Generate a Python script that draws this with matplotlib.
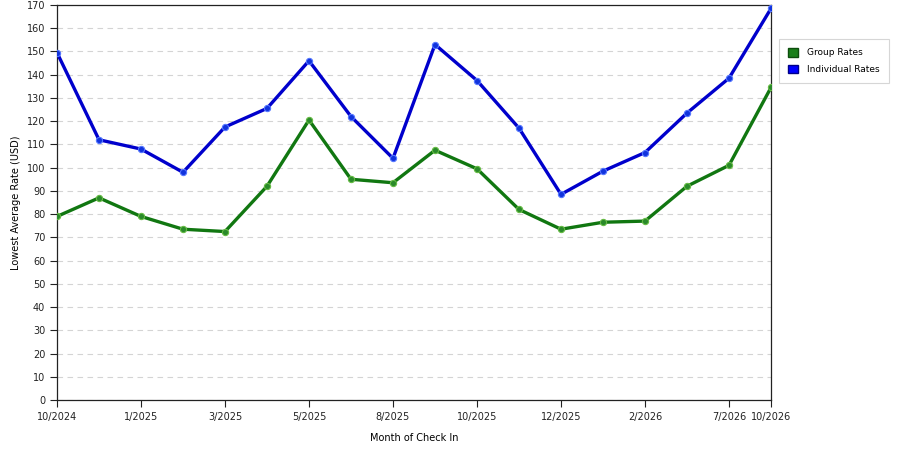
import numpy as np
import matplotlib.pyplot as plt
from matplotlib.patches import Patch

# Months of check in (only some are labelled on the axis)
months = ["10/2024", "11/2024", "1/2025", "2/2025", "3/2025", "4/2025",
          "5/2025", "7/2025", "8/2025", "9/2025", "10/2025", "11/2025",
          "12/2025", "1/2026", "2/2026", "5/2026", "7/2026", "10/2026"]
shown_labels = ["10/2024", "1/2025", "3/2025", "5/2025", "8/2025",
                "10/2025", "12/2025", "2/2026", "7/2026", "10/2026"]

group_rates = [79, 87, 79, 73.5, 72.5, 92, 120.5, 95, 93.5, 107.5,
               99.5, 82, 73.5, 76.5, 77, 92, 101, 134.5]
individual_rates = [149.5, 112, 108, 98, 117.5, 125.5, 146, 122, 104, 153,
                    137.5, 117, 88.5, 98.5, 106.5, 123.5, 138.5, 168.5]

fig = plt.figure(figsize=(9, 4.5), dpi=100)
ax = fig.add_axes([57/900, 50/450, 714/900, 395/450])

x = np.arange(len(months))
ax.plot(x, group_rates, color='#117711', linewidth=2.4, marker='o',
        markersize=4.5, markerfacecolor='#2a8a2a', markeredgecolor='#66bb44',
        markeredgewidth=0.8, zorder=3)
ax.plot(x, individual_rates, color='#0000cc', linewidth=2.4, marker='o',
        markersize=4.5, markerfacecolor='#1133dd', markeredgecolor='#5577ff',
        markeredgewidth=0.8, zorder=3)

ax.set_xlim(0, len(months) - 1)
ax.set_ylim(0, 170)
ax.set_yticks(np.arange(0, 171, 10))
tick_pos = [months.index(m) for m in shown_labels]
ax.set_xticks(tick_pos)
ax.set_xticklabels(shown_labels)

ax.yaxis.grid(True, linestyle=(0, (5, 4)), color='#d4d4d4', linewidth=0.8)
ax.set_axisbelow(True)
for s in ax.spines.values():
    s.set_color('#222222')
    s.set_linewidth(0.9)
ax.tick_params(axis='both', labelsize=7, colors='#222222', length=5, width=0.8)

ax.set_xlabel('Month of Check In', fontsize=7, labelpad=8)
ax.set_ylabel('Lowest Average Rate (USD)', fontsize=7, labelpad=4)

handles = [Patch(facecolor='#1a7f1a', edgecolor='#0d4d0d', label='Group Rates'),
           Patch(facecolor='#0000ff', edgecolor='#000088', label='Individual Rates')]
leg = fig.legend(handles=handles, loc='upper left', bbox_to_anchor=(779/900, 1 - 39/450),
                 borderaxespad=0, fontsize=6.5, frameon=True, fancybox=False,
                 handlelength=1.1, handleheight=1.1, handletextpad=1.0,
                 borderpad=1.0, labelspacing=0.8)
leg.get_frame().set_edgecolor('#cccccc')
leg.get_frame().set_linewidth(0.8)

fig.savefig('out.png', dpi=100)
